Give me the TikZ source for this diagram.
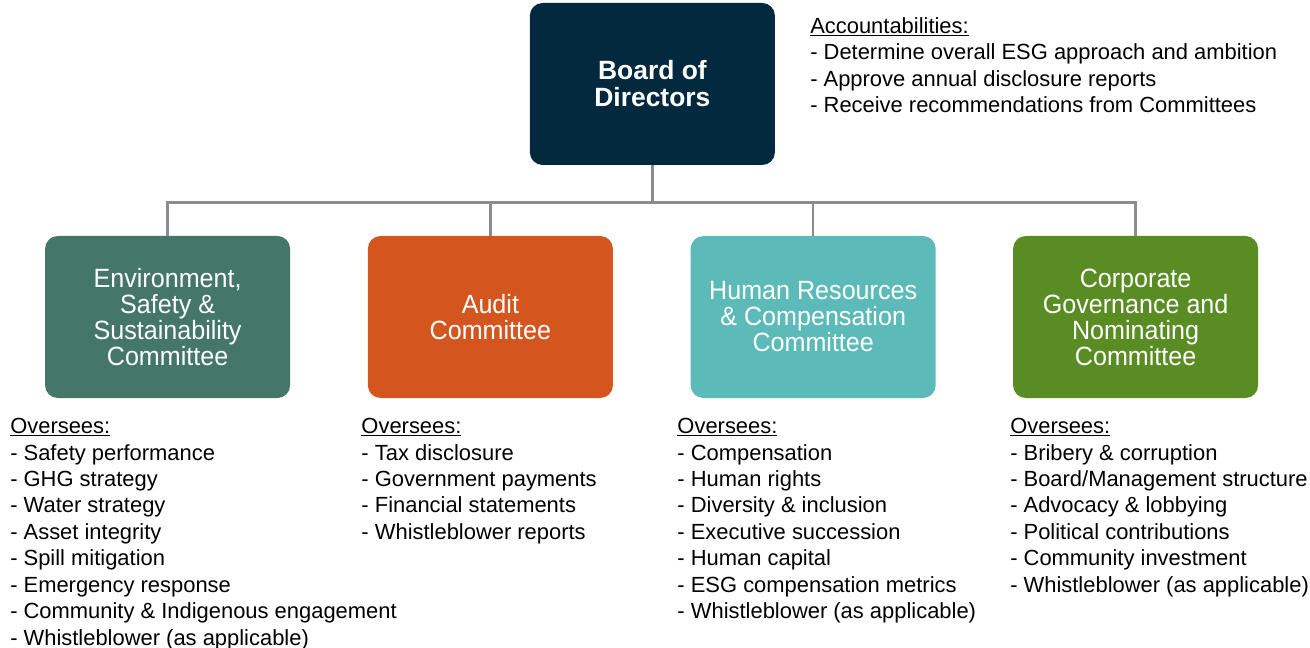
\documentclass[tikz,border=0pt]{standalone}
\usepackage{fontspec}
\setmainfont{Liberation Sans}
\newfontfamily\boxfont[FakeStretch=0.95]{Liberation Sans}
\usepackage{tikz}
\usetikzlibrary{positioning,calc}
\definecolor{navy}{HTML}{03293F}
\definecolor{slate}{HTML}{44776A}
\definecolor{rust}{HTML}{D4561F}
\definecolor{aqua}{HTML}{5CBBB8}
\definecolor{moss}{HTML}{5A8C24}
\definecolor{wire}{HTML}{8C8C8C}
\tikzset{committee/.style={rounded corners=9pt,minimum width=6.125cm,minimum height=4.05cm,align=center,text=white,inner sep=4pt,font=\boxfont\fontsize{18.8}{18.5}\selectfont}, link/.style={draw=wire,line width=1.8pt}, duties/.style={anchor=north west,align=left,inner sep=0pt,font=\fontsize{15.6}{18.8}\selectfont}}

\begin{document}
\begin{tikzpicture}
\useasboundingbox (0,0) rectangle (32.75,-16.2);
\node[committee,fill=navy,font=\bfseries\fontsize{18.8}{19.2}\selectfont] (board) at (16.31,-2.1) {Board of\\Directors};
\node[duties] (acc) at (20.25,-0.425) {\underline{Accountabilities:}\\- Determine overall ESG approach and ambition\\- Approve annual disclosure reports\\- Receive recommendations from Committees};
% committees
\node[committee,fill=slate] (ess) at (4.19,-7.925) {Environment,\\Safety \&\\Sustainability\\Committee};
\node[committee,fill=rust] (audit) at (12.26,-7.925) {Audit\\Committee};
\node[committee,fill=aqua] (hrc) at (20.33,-7.925) {Human Resources\\\& Compensation\\Committee};
\node[committee,fill=moss] (cgn) at (28.39,-7.925) {Corporate\\Governance and\\Nominating\\Committee};
% connectors
\coordinate (bus) at ($(board.south)+(0,-0.925)$);
\draw[link] (board.south)--(bus);
\foreach \c in {ess,audit,hrc,cgn} \draw[link] (\c.north)|-(bus);
% oversight lists
\node[duties] (essl) at (0.25,-10.45) {\underline{Oversees:}\\- Safety performance\\- GHG strategy\\- Water strategy\\- Asset integrity\\- Spill mitigation\\- Emergency response\\- Community \& Indigenous engagement\\- Whistleblower (as applicable)};
\node[duties] (auditl) at (9.03,-10.45) {\underline{Oversees:}\\- Tax disclosure\\- Government payments\\- Financial statements\\- Whistleblower reports};
\node[duties] (hrcl) at (16.93,-10.45) {\underline{Oversees:}\\- Compensation\\- Human rights\\- Diversity \& inclusion\\- Executive succession\\- Human capital\\- ESG compensation metrics\\- Whistleblower (as applicable)};
\node[duties] (cgnl) at (25.25,-10.45) {\underline{Oversees:}\\- Bribery \& corruption\\- Board/Management structure\\- Advocacy \& lobbying\\- Political contributions\\- Community investment\\- Whistleblower (as applicable)};
\end{tikzpicture}
\end{document}
